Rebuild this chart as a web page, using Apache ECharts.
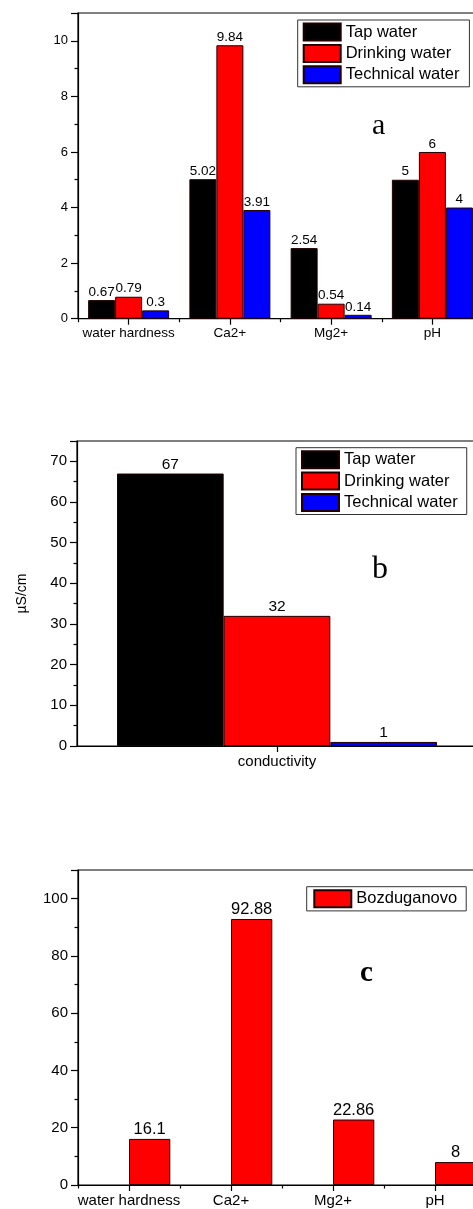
<!DOCTYPE html>
<html lang="en">
<head>
    <meta charset="UTF-8">
    <title>water quality</title>
    <script src="https://cdn.jsdelivr.net/npm/echarts@6/dist/echarts.min.js"></script>
    <style>
        html, body {
            margin: 0;
            padding: 0;
            background: #fff;
        }

        #chart {
            width: 473px;
            height: 1209px;
        }
    </style>
</head>
<body>
<div id="chart"></div>

<script type="text/javascript">
    // panel a
    var paramCats = ['water hardness', 'Ca2+', 'Mg2+', 'pH'];
    var tapA = [0.67, 5.02, 2.54, 5];
    var drinkA = [0.79, 9.84, 0.54, 6];
    var techA = [0.3, 3.91, 0.14, 4];

    // panel b
    var condCats = ['conductivity'];
    var tapB = [67];
    var drinkB = [32];
    var techB = [1];

    // panel c
    var bozdug = [16.1, 92.88, 22.86, 8];

    var seriesNames = ['Tap water', 'Drinking water', 'Technical water'];
    var colors = ['#000000', '#ff0000', '#0000ff'];

    var font = 'Arial, "Liberation Sans", sans-serif';

    function yAxis(idx, max, interval, fs, name) {
        return {
            type: 'value',
            gridIndex: idx,
            min: 0,
            max: max,
            interval: interval,
            name: name || '',
            nameLocation: 'middle',
            nameGap: 48,
            nameTextStyle: {color: '#000', fontFamily: font, fontSize: 14},
            axisLine: {show: true, lineStyle: {color: '#000', width: 1.2}},
            axisTick: {show: true, length: 7, lineStyle: {color: '#000', width: 1.2}},
            minorTick: {show: true, splitNumber: 2, length: 3.5, lineStyle: {color: '#000', width: 1.2}},
            splitLine: {show: false},
            axisLabel: {
                color: '#000', fontFamily: font, fontSize: fs, margin: 10,
                showMaxLabel: false
            }
        };
    }

    // labels=true: main axis with ticks on the labels; false: small ticks on category edges
    function catAxis(idx, cats, fs, labels) {
        return {
            type: 'category',
            gridIndex: idx,
            position: 'bottom',
            data: cats,
            axisLine: {show: labels, onZero: false, lineStyle: {color: '#000', width: 1.2}},
            axisTick: labels
                ? {show: true, alignWithLabel: true, length: 6, lineStyle: {color: '#000', width: 1.2}}
                : {show: true, length: 3.5, lineStyle: {color: '#000', width: 1.2}},
            axisLabel: {show: labels, interval: 0, color: '#000', fontFamily: font, fontSize: fs, margin: 8},
            splitLine: {show: false}
        };
    }

    function barSeries(name, data, color, xi, yi, fs) {
        return {
            name: name,
            type: 'bar',
            xAxisIndex: xi,
            yAxisIndex: yi,
            data: data,
            barGap: '0%',
            barCategoryGap: '20%',
            itemStyle: {color: color, borderColor: '#200', borderWidth: 1},
            label: {
                show: true, position: 'top', distance: 1,
                color: '#000', fontFamily: font, fontSize: fs
            }
        };
    }

    function legendBox(left, top, names, pad) {
        return {
            left: left,
            top: top,
            orient: 'vertical',
            data: names,
            icon: 'rect',
            itemWidth: 37,
            itemHeight: 17,
            itemGap: 2.4,
            padding: pad,
            borderColor: '#333',
            borderWidth: 1,
            selectedMode: false,
            textStyle: {color: '#000', fontFamily: font, fontSize: 16.5}
        };
    }

    function gridBox(left, top, width, height) {
        return {
            left: left, top: top, width: width, height: height,
            outerBoundsMode: 'none',
            show: true, borderColor: '#000', borderWidth: 1.2
        };
    }

    var chart = echarts.init(document.getElementById('chart'));

    var option = {
        animation: false,
        grid: [
            gridBox(78, 13, 405, 305.7),
            gridBox(77, 441, 400, 305),
            gridBox(78, 870, 408, 315)
        ],
        xAxis: [
            catAxis(0, paramCats, 13.5, true),
            catAxis(0, paramCats, 13.5, false),
            catAxis(1, condCats, 15, true),
            catAxis(2, paramCats, 15, true),
            catAxis(2, paramCats, 15, false)
        ],
        yAxis: [
            yAxis(0, 11, 2, 13),
            yAxis(1, 75, 10, 15, 'µS/cm'),
            yAxis(2, 110, 20, 15)
        ],
        legend: [
            legendBox(297.7, 20, seriesNames, [2.5, 10, 2.5, 5]),
            legendBox(296, 447.7, seriesNames, [2.5, 9, 2.5, 5]),
            legendBox(306.7, 886.7, ['Bozduganovo'], [2.6, 9, 2.6, 6.6])
        ],
        graphic: [
            {type: 'text', left: 372, top: 111, style: {text: 'a', font: '30px "Liberation Serif", serif', fill: '#000'}},
            {type: 'text', left: 372, top: 554, style: {text: 'b', font: '32px "Liberation Serif", serif', fill: '#000'}},
            {type: 'text', left: 360, top: 959, style: {text: 'c', font: 'bold 29px "Liberation Serif", serif', fill: '#000'}}
        ],
        series: [
            barSeries(seriesNames[0], tapA, colors[0], 0, 0, 13.5),
            barSeries(seriesNames[1], drinkA, colors[1], 0, 0, 13.5),
            barSeries(seriesNames[2], techA, colors[2], 0, 0, 13.5),
            barSeries(seriesNames[0], tapB, colors[0], 2, 1, 15.5),
            barSeries(seriesNames[1], drinkB, colors[1], 2, 1, 15.5),
            barSeries(seriesNames[2], techB, colors[2], 2, 1, 15.5),
            // empty slot so the Bozduganovo bar sits right of the tick, as in the original
            {name: 'slot', type: 'bar', xAxisIndex: 3, yAxisIndex: 2, data: [], barGap: '0%', barWidth: 41.3},
            Object.assign(barSeries('Bozduganovo', bozdug, colors[1], 3, 2, 16.5), {barWidth: 41.3})
        ]
    };

    chart.setOption(option);
</script>
</body>
</html>
